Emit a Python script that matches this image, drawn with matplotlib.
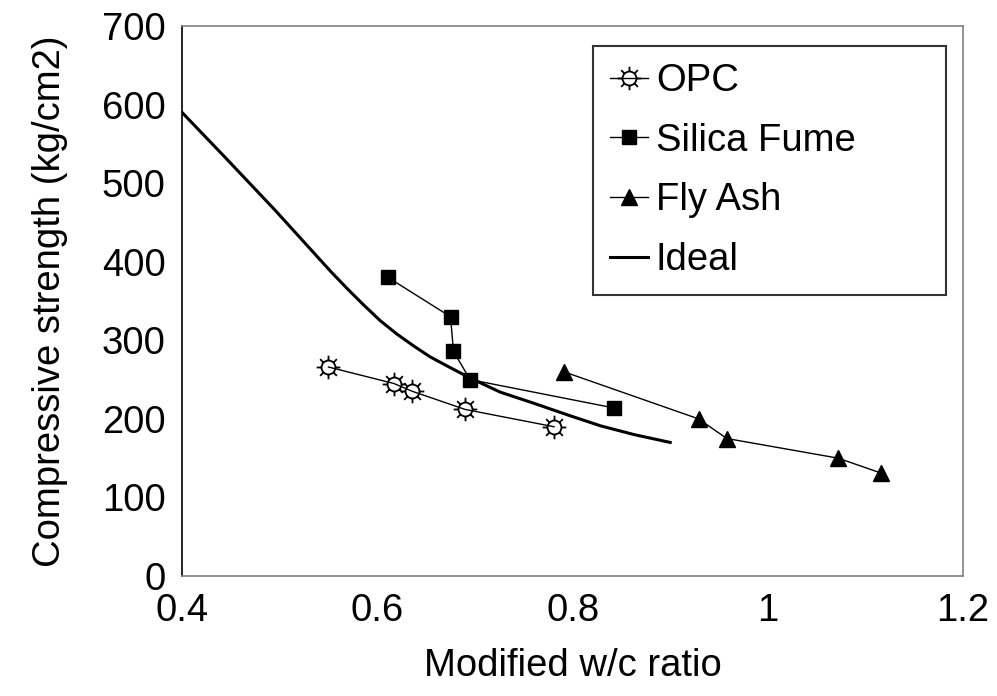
import numpy as np
import matplotlib
matplotlib.use("Agg")
import matplotlib.pyplot as plt
from matplotlib.path import Path

plt.rcParams['font.family'] = ['Liberation Sans', 'DejaVu Sans']

# Datos
opc_x = [0.550, 0.617, 0.636, 0.690, 0.781]
opc_y = [266, 245, 235, 212, 190]

sf_x = [0.611, 0.675, 0.678, 0.695, 0.842]
sf_y = [380, 330, 286, 250, 214]

fa_x = [0.791, 0.929, 0.958, 1.072, 1.116]
fa_y = [260, 200, 175, 150, 131]

ideal_x = [0.40, 0.444, 0.495, 0.552, 0.569, 0.586, 0.603, 0.620, 0.637, 0.654,
           0.672, 0.695, 0.726, 0.760, 0.795, 0.829, 0.863, 0.900]
ideal_y = [590, 533, 466, 388, 366, 345, 325, 308, 293, 279,
           267, 252, 234, 220, 205, 191, 180, 170]

x_ticks = [0.4, 0.6, 0.8, 1.0, 1.2]
x_tick_labels = ["0.4", "0.6", "0.8", "1", "1.2"]
y_ticks = [0, 100, 200, 300, 400, 500, 600, 700]

FS = 27.5


# Marcador tipo "sol": círculo con rayos
def marcador_sol():
    circ = Path.unit_circle()
    verts = list(circ.vertices)
    codes = list(circ.codes)
    for ang in np.arange(8) * np.pi / 4:
        c, s = np.cos(ang), np.sin(ang)
        verts += [(c * 1.0, s * 1.0), (c * 1.7, s * 1.7)]
        codes += [Path.MOVETO, Path.LINETO]
    return Path(verts, codes)


fig = plt.figure(figsize=(9.97, 6.96), dpi=100)
ax = fig.add_axes([0.1826, 0.1724, 0.7834, 0.7902])

ax.plot(opc_x, opc_y, color="black", lw=1, marker=marcador_sol(), markersize=17,
        markerfacecolor="none", markeredgecolor="black", markeredgewidth=1.3, label="OPC")
ax.plot(sf_x, sf_y, color="black", lw=1, marker="s", markersize=10,
        markerfacecolor="black", markeredgecolor="black", label="Silica Fume")
ax.plot(fa_x, fa_y, color="black", lw=1, marker="^", markersize=12,
        markerfacecolor="black", markeredgecolor="black", label="Fly Ash")
ax.plot(ideal_x, ideal_y, color="black", lw=2.2, label="Ideal",
        solid_joinstyle="round")

ax.set_xlim(0.4, 1.2)
ax.set_ylim(0, 700)
ax.set_xticks(x_ticks)
ax.set_xticklabels(x_tick_labels)
ax.set_yticks(y_ticks)
ax.tick_params(length=0, labelsize=FS)
ax.tick_params(axis="y", pad=12)
ax.tick_params(axis="x", pad=12)

for lado in ["top", "right", "bottom"]:
    ax.spines[lado].set_color("#808080")
    ax.spines[lado].set_linewidth(1.2)
ax.spines["left"].set_color("black")
ax.spines["left"].set_linewidth(1.2)

ax.set_xlabel("Modified w/c ratio", fontsize=FS, labelpad=14)
ax.set_ylabel("Compressive strength (kg/cm2)", fontsize=FS, labelpad=24)

leg = ax.legend(loc="upper left", bbox_to_anchor=(0.526, 0.0, 0.452, 0.964),
                mode="expand", borderaxespad=0,
                fontsize=FS, handlelength=1.0, handletextpad=0.2, labelspacing=0.62,
                borderpad=0.45, fancybox=False, frameon=True)
leg.get_frame().set_edgecolor("black")
leg.get_frame().set_linewidth(1.5)

fig.savefig("out.png", dpi=100)
